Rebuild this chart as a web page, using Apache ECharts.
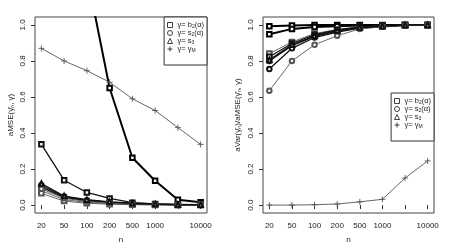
<!DOCTYPE html>
<html>
<head>
<meta charset="utf-8">
<script src="https://cdn.jsdelivr.net/npm/echarts@6/dist/echarts.min.js"></script>
<style>html,body{margin:0;padding:0;background:#fff}#c{width:453px;height:251px}</style>
</head>
<body>
<div id="c"></div>
<script>
// ---- data ----
const nValues = [20, 50, 100, 200, 500, 1000, 5000, 10000];
const xTickLabels = ['20', '50', '100', '200', '500', '1000', '', '10000'];
const yTicks = [0, 0.2, 0.4, 0.6, 0.8, 1.0];
const seriesNames = ['b2', 's2', 's3', 'gM'];
const legendLabels = ['γ= b{s|2}(α)', 'γ= s{s|2}(α)', 'γ= s{s|3}', 'γ= γ{s|M}'];
const yTitleLeft = 'aMSE(γ̂ₙ, γ)';
const yTitleRight = 'aVar(γ̂ₙ)/aMSE(γ̂ₙ, γ)';
const xTitle = 'n';

// left panel: aMSE
const mseB2a = [4.5, 2.3, 1.28, 0.65, 0.263, 0.135, 0.030, 0.016];
const mseB2b = [0.337, 0.138, 0.070, 0.037, 0.013, 0.006, 0.004, 0.002];
const mseB2c = [0.080, 0.030, 0.015, 0.008, 0.004, 0.002, 0.001, 0.000];
const mseB2d = [0.065, 0.022, 0.010, 0.005, 0.002, 0.001, 0.000, 0.000];
const mseS2a = [0.110, 0.047, 0.027, 0.016, 0.009, 0.005, 0.002, 0.001];
const mseS2b = [0.100, 0.043, 0.024, 0.014, 0.008, 0.004, 0.002, 0.001];
const mseS2c = [0.090, 0.038, 0.020, 0.012, 0.006, 0.003, 0.001, 0.001];
const mseS3  = [0.120, 0.050, 0.030, 0.018, 0.010, 0.006, 0.003, 0.002];
const mseGM  = [0.870, 0.800, 0.746, 0.682, 0.590, 0.525, 0.430, 0.337];

// right panel: aVar/aMSE
const ratB2a = [0.993, 0.997, 0.999, 1.000, 1.000, 1.000, 1.000, 1.000];
const ratB2b = [0.948, 0.978, 0.988, 0.993, 0.997, 0.998, 1.000, 1.000];
const ratB2c = [0.841, 0.905, 0.952, 0.975, 0.990, 0.995, 0.999, 1.000];
const ratB2d = [0.823, 0.897, 0.946, 0.972, 0.988, 0.994, 0.999, 1.000];
const ratS2a = [0.800, 0.885, 0.937, 0.965, 0.985, 0.992, 0.998, 1.000];
const ratS2b = [0.755, 0.870, 0.930, 0.960, 0.982, 0.990, 0.998, 1.000];
const ratS2c = [0.635, 0.800, 0.890, 0.940, 0.978, 0.990, 0.998, 0.999];
const ratS3  = [0.806, 0.890, 0.940, 0.968, 0.986, 0.993, 0.999, 1.000];
const ratGM  = [0.000, 0.000, 0.002, 0.006, 0.018, 0.032, 0.150, 0.245];

// ---- styles ----
const PLUS = 'path://M0,5L10,5M5,0L5,10';
const symOf = {b2: 'emptyRect', s2: 'emptyCircle', s3: 'emptyTriangle', gM: PLUS};
const THICK = {color: '#000', width: 2, bw: 1.2};
const MED = {color: '#111', width: 1.3, bw: 1};
const THIN = {color: '#555', width: 0.9, bw: 0.8};

function mk(grid, name, vals, st) {
  const plus = name === 'gM';
  return {
    type: 'line', name: name, xAxisIndex: grid, yAxisIndex: grid,
    data: vals.map((v, i) => [i + 1, v]),
    symbol: symOf[name], symbolSize: plus ? 6 : 4.5, symbolKeepAspect: true,
    showAllSymbol: true, clip: true, animation: false, silent: true,
    lineStyle: {color: st.color, width: st.width},
    itemStyle: plus ? {color: 'none', borderColor: st.color, borderWidth: 0.9}
                    : {color: st.color, borderColor: st.color, borderWidth: st.bw},
    emphasis: {disabled: true}
  };
}

const series = [
  mk(0, 'b2', mseB2a, THICK), mk(0, 'b2', mseB2b, MED), mk(0, 'b2', mseB2c, THIN), mk(0, 'b2', mseB2d, THIN),
  mk(0, 's2', mseS2a, MED), mk(0, 's2', mseS2b, MED), mk(0, 's2', mseS2c, THIN),
  mk(0, 's3', mseS3, MED), mk(0, 'gM', mseGM, THIN),
  mk(1, 'b2', ratB2a, THICK), mk(1, 'b2', ratB2b, THICK), mk(1, 'b2', ratB2c, THIN), mk(1, 'b2', ratB2d, MED),
  mk(1, 's2', ratS2a, MED), mk(1, 's2', ratS2b, MED), mk(1, 's2', ratS2c, THIN),
  mk(1, 's3', ratS3, MED), mk(1, 'gM', ratGM, THIN)
];

const FONT = 'Liberation Sans, Arial, sans-serif';
const tickIdx = nValues.map((v, i) => i + 1);

function xAx(g) {
  return {
    type: 'value', gridIndex: g, min: 0.72, max: 8.28,
    axisLine: {show: false}, splitLine: {show: false},
    axisTick: {show: true, customValues: tickIdx, length: 4, lineStyle: {color: '#333'}},
    axisLabel: {customValues: tickIdx, formatter: v => xTickLabels[Math.round(v) - 1],
                fontSize: 8, color: '#222', fontFamily: FONT, margin: 9},
    name: xTitle, nameLocation: 'middle', nameGap: 23,
    nameTextStyle: {fontSize: 8, color: '#222', fontFamily: FONT}
  };
}
function yAx(g, title, gap) {
  return {
    type: 'value', gridIndex: g, min: -0.044, max: 1.044,
    axisLine: {show: false}, splitLine: {show: false},
    axisTick: {show: true, customValues: yTicks, length: 4, lineStyle: {color: '#333'}},
    axisLabel: {customValues: yTicks, formatter: v => v.toFixed(1), rotate: 90,
                fontSize: 8, color: '#222', fontFamily: FONT, margin: 8},
    name: title, nameLocation: 'middle', nameGap: gap, nameRotate: 90,
    nameTextStyle: {fontSize: 8, color: '#222', fontFamily: FONT}
  };
}
function lg(pos) {
  return Object.assign({
    orient: 'vertical', selectedMode: false,
    data: seriesNames.map(n => ({name: n, icon: symOf[n] === PLUS ? PLUS : symOf[n].replace('empty', '').toLowerCase(),
      itemStyle: {color: '#fff', borderColor: '#111', borderWidth: 0.8}})),
    formatter: n => legendLabels[seriesNames.indexOf(n)],
    itemWidth: 5, itemHeight: 5, itemGap: 0,
    padding: [4, 3, 12, 3],
    borderColor: '#333', borderWidth: 1, borderRadius: 0, backgroundColor: '#fff',
    textStyle: {fontSize: 7.5, color: '#222', fontFamily: FONT, lineHeight: 8,
      rich: {s: {fontSize: 5, lineHeight: 8, padding: [3, 0, 0, 0], fontFamily: FONT, color: '#222'}}}
  }, pos);
}

const chart = echarts.init(document.getElementById('c'), null, {renderer: 'canvas'});
chart.setOption({
  animation: false,
  backgroundColor: '#fff',
  grid: [
    {left: 35, top: 17, width: 172, height: 196, show: true, borderColor: '#444', borderWidth: 1, backgroundColor: 'transparent'},
    {left: 263, top: 17, width: 171, height: 196, show: true, borderColor: '#444', borderWidth: 1, backgroundColor: 'transparent'}
  ],
  xAxis: [xAx(0), xAx(1)],
  yAxis: [yAx(0, yTitleLeft, 20), yAx(1, yTitleRight, 21)],
  legend: [lg({right: 246, top: 17}), lg({right: 19, top: 93})],
  series: series
});
</script>
</body>
</html>
